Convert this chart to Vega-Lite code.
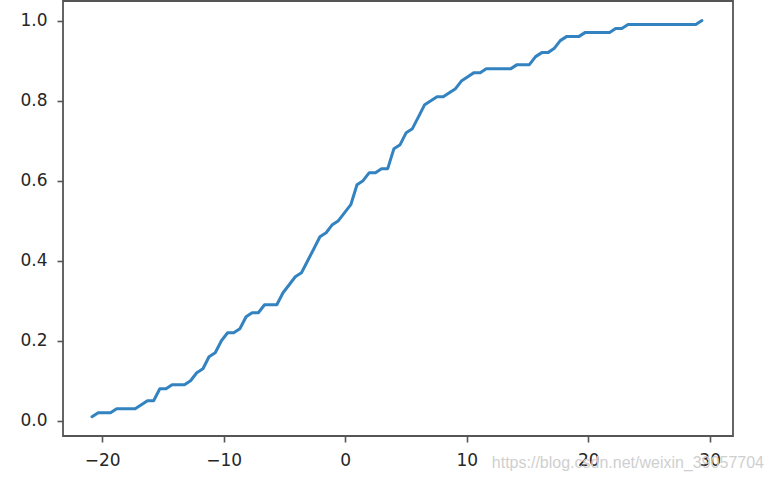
{
  "$schema": "https://vega.github.io/schema/vega-lite/v6.json",
  "width": 670,
  "height": 435,
  "autosize": {"type": "none"},
  "padding": {"left": 63, "top": 1, "right": 41, "bottom": 44},
  "background": "white",
  "title": {
    "text": "https://blog.csdn.net/weixin_39057704",
    "orient": "bottom",
    "anchor": "end",
    "frame": "group",
    "baseline": "alphabetic",
    "offset": 0,
    "dx": 31,
    "font": "Liberation Sans",
    "fontSize": 16,
    "fontWeight": "normal",
    "color": "#cfcfcf"
  },
  "config": {
    "view": {"stroke": "#555555", "strokeWidth": 1.8},
    "axis": {
      "domain": false,
      "grid": false,
      "ticks": true,
      "tickColor": "#555555",
      "tickWidth": 1.6,
      "tickSize": 6,
      "labelFont": "DejaVu Sans",
      "labelFontSize": 17,
      "labelColor": "#262626",
      "title": null
    }
  },
  "data": {
    "values": [
      {"x": -20.84, "y": 0.01}, {"x": -20.33, "y": 0.02}, {"x": -19.83, "y": 0.02}, {"x": -19.32, "y": 0.02},
      {"x": -18.81, "y": 0.03}, {"x": -18.30, "y": 0.03}, {"x": -17.80, "y": 0.03}, {"x": -17.29, "y": 0.03},
      {"x": -16.78, "y": 0.04}, {"x": -16.28, "y": 0.05}, {"x": -15.77, "y": 0.05}, {"x": -15.26, "y": 0.08},
      {"x": -14.75, "y": 0.08}, {"x": -14.25, "y": 0.09}, {"x": -13.74, "y": 0.09}, {"x": -13.23, "y": 0.09},
      {"x": -12.73, "y": 0.10}, {"x": -12.22, "y": 0.12}, {"x": -11.71, "y": 0.13}, {"x": -11.21, "y": 0.16},
      {"x": -10.70, "y": 0.17}, {"x": -10.19, "y": 0.20}, {"x": -9.68, "y": 0.22}, {"x": -9.18, "y": 0.22},
      {"x": -8.67, "y": 0.23}, {"x": -8.16, "y": 0.26}, {"x": -7.66, "y": 0.27}, {"x": -7.15, "y": 0.27},
      {"x": -6.64, "y": 0.29}, {"x": -6.13, "y": 0.29}, {"x": -5.63, "y": 0.29}, {"x": -5.12, "y": 0.32},
      {"x": -4.61, "y": 0.34}, {"x": -4.11, "y": 0.36}, {"x": -3.60, "y": 0.37}, {"x": -3.09, "y": 0.40},
      {"x": -2.58, "y": 0.43}, {"x": -2.08, "y": 0.46}, {"x": -1.57, "y": 0.47}, {"x": -1.06, "y": 0.49},
      {"x": -0.56, "y": 0.50}, {"x": -0.05, "y": 0.52}, {"x": 0.46, "y": 0.54}, {"x": 0.97, "y": 0.59},
      {"x": 1.47, "y": 0.60}, {"x": 1.98, "y": 0.62}, {"x": 2.49, "y": 0.62}, {"x": 2.99, "y": 0.63},
      {"x": 3.50, "y": 0.63}, {"x": 4.01, "y": 0.68}, {"x": 4.52, "y": 0.69}, {"x": 5.02, "y": 0.72},
      {"x": 5.53, "y": 0.73}, {"x": 6.04, "y": 0.76}, {"x": 6.54, "y": 0.79}, {"x": 7.05, "y": 0.80},
      {"x": 7.56, "y": 0.81}, {"x": 8.07, "y": 0.81}, {"x": 8.57, "y": 0.82}, {"x": 9.08, "y": 0.83},
      {"x": 9.59, "y": 0.85}, {"x": 10.09, "y": 0.86}, {"x": 10.60, "y": 0.87}, {"x": 11.11, "y": 0.87},
      {"x": 11.61, "y": 0.88}, {"x": 12.12, "y": 0.88}, {"x": 12.63, "y": 0.88}, {"x": 13.14, "y": 0.88},
      {"x": 13.64, "y": 0.88}, {"x": 14.15, "y": 0.89}, {"x": 14.66, "y": 0.89}, {"x": 15.16, "y": 0.89},
      {"x": 15.67, "y": 0.91}, {"x": 16.18, "y": 0.92}, {"x": 16.69, "y": 0.92}, {"x": 17.19, "y": 0.93},
      {"x": 17.70, "y": 0.95}, {"x": 18.21, "y": 0.96}, {"x": 18.71, "y": 0.96}, {"x": 19.22, "y": 0.96},
      {"x": 19.73, "y": 0.97}, {"x": 20.24, "y": 0.97}, {"x": 20.74, "y": 0.97}, {"x": 21.25, "y": 0.97},
      {"x": 21.76, "y": 0.97}, {"x": 22.26, "y": 0.98}, {"x": 22.77, "y": 0.98}, {"x": 23.28, "y": 0.99},
      {"x": 23.79, "y": 0.99}, {"x": 24.29, "y": 0.99}, {"x": 24.80, "y": 0.99}, {"x": 25.31, "y": 0.99},
      {"x": 25.81, "y": 0.99}, {"x": 26.32, "y": 0.99}, {"x": 26.83, "y": 0.99}, {"x": 27.34, "y": 0.99},
      {"x": 27.84, "y": 0.99}, {"x": 28.35, "y": 0.99}, {"x": 28.86, "y": 0.99}, {"x": 29.36, "y": 1.00}
    ]
  },
  "mark": {"type": "line", "color": "#3383c1", "strokeWidth": 3, "strokeJoin": "round", "strokeCap": "round"},
  "encoding": {
    "x": {
      "field": "x",
      "type": "quantitative",
      "scale": {"domain": [-23.23, 31.92], "nice": false, "zero": false},
      "axis": {"values": [-20, -10, 0, 10, 20, 30], "format": "d", "labelPadding": 10}
    },
    "y": {
      "field": "y",
      "type": "quantitative",
      "scale": {"domain": [-0.038, 1.049], "nice": false, "zero": false},
      "axis": {"values": [0, 0.2, 0.4, 0.6, 0.8, 1.0], "format": ".1f", "labelPadding": 10}
    }
  }
}
